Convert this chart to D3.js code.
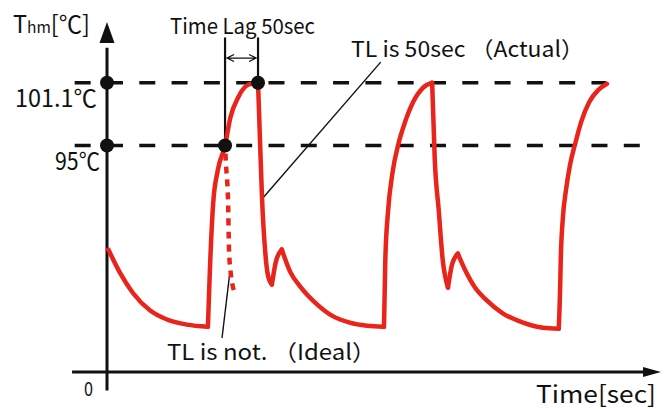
<!DOCTYPE html>
<html>
<head>
<meta charset="utf-8">
<script src="https://cdn.jsdelivr.net/npm/d3@7"></script>
<style>
  body { margin: 0; background: #fff; }
  text { font-family: "Noto Sans CJK JP", "Noto Sans", sans-serif; fill: #111; }
</style>
</head>
<body>
<script>
var curveTime = [2, 20, 39, 65, 91, 121, 153,
                 156, 161, 168, 179, 187, 199, 214, 229,
                 232, 235, 240, 244, 250,
                 256, 265,
                 278, 293, 318, 343, 368, 394, 420,
                 422, 426, 433, 442, 452, 464, 479, 493,
                 497, 503, 509, 517,
                 523, 532,
                 543, 558, 575, 600, 631, 661, 685,
                 687, 688, 691, 696, 702, 710, 719, 731, 745, 758];
var curveTemp = [84.9, 82.6, 80.7, 79.0, 78.1, 77.6, 77.4,
                 82.9, 89.4, 92.6, 95.0, 97.7, 99.7, 100.9, 101.1,
                 95.5, 90.0, 84.6, 82.4, 81.5,
                 83.7, 84.9,
                 82.7, 81.3, 79.6, 78.4, 77.8, 77.5, 77.4,
                 83.9, 88.5, 92.4, 95.2, 97.3, 99.2, 100.6, 101.1,
                 93.6, 88.7, 83.9, 81.2,
                 83.4, 84.5,
                 82.9, 81.2, 80.0, 78.7, 77.8, 77.3, 77.2,
                 81.0, 83.9, 87.8, 90.7, 93.1, 95.2, 97.3, 99.2, 100.4, 101.0];
// sharp corners (index into curve arrays) where the smooth pieces meet
var cornerAt = [6, 14, 19, 21, 28, 36, 40, 42, 49];

// ideal response (no lag), drawn dotted
var idealTime = [179, 180.5, 183.5, 185, 188, 194];
var idealTemp = [95, 93.1, 89.7, 84.9, 82.4, 80.7];

// reference levels
var refLevels = [101.1, 95];
var refLabels = ["101.1℃", "95℃"];
var refStart = -49;
var refEnd = [757, 810];

var dotTime = [0, 0, 179, 229];
var dotTemp = [101.1, 95, 95, 101.1];

var lagStart = 179, lagEnd = 229, lagTop = 105.5, lagArrow = 103.5;

var actualLeader = [[235, 89.8], [415, 103.1]];
var idealLeader = [[186.5, 82.8], [174.4, 76.3]];

var w = 672, h = 409;
var red = "#e8241b";

var svg = d3.select("body").append("svg")
    .attr("width", w)
    .attr("height", h);

var x = d3.scaleLinear().domain([0, 840]).range([107, 661]);
var y = d3.scaleLinear().domain([73, 107]).range([372, 22]);

// dashed reference lines
refLevels.forEach(function(v, i) {
    svg.append("line")
        .attr("x1", x(refStart)).attr("x2", x(refEnd[i]))
        .attr("y1", y(v)).attr("y2", y(v))
        .attr("stroke", "#111")
        .attr("stroke-width", 3.5)
        .attr("stroke-dasharray", "16,16.3");
});

// axes
svg.append("line")
    .attr("x1", x(-53)).attr("x2", x(828))
    .attr("y1", y(73)).attr("y2", y(73))
    .attr("stroke", "#111").attr("stroke-width", 3);
svg.append("path")
    .attr("d", "M" + x(840) + "," + y(73) + "L" + (x(840) - 18) + "," + (y(73) - 5) +
               "L" + (x(840) - 18) + "," + (y(73) + 5) + "Z")
    .attr("fill", "#111");
svg.append("line")
    .attr("x1", x(0)).attr("x2", x(0))
    .attr("y1", y(71.2)).attr("y2", y(104.5))
    .attr("stroke", "#111").attr("stroke-width", 3);
svg.append("path")
    .attr("d", "M" + x(0) + "," + y(107) + "L" + (x(0) - 7.5) + "," + (y(107) + 21) +
               "L" + (x(0) + 7.5) + "," + (y(107) + 21) + "Z")
    .attr("fill", "#111");

// time lag markers
[[lagStart, 95], [lagEnd, 101.1]].forEach(function(p) {
    svg.append("line")
        .attr("x1", x(p[0])).attr("x2", x(p[0]))
        .attr("y1", y(lagTop)).attr("y2", y(p[1]))
        .attr("stroke", "#111").attr("stroke-width", 2.2);
});
var ax1 = x(lagStart) + 2, ax2 = x(lagEnd) - 2, ay = y(lagArrow);
svg.append("path")
    .attr("d", "M" + ax1 + "," + ay + "L" + ax2 + "," + ay +
               "M" + (ax1 + 7) + "," + (ay - 3.5) + "L" + ax1 + "," + ay + "L" + (ax1 + 7) + "," + (ay + 3.5) +
               "M" + (ax2 - 7) + "," + (ay - 3.5) + "L" + ax2 + "," + ay + "L" + (ax2 - 7) + "," + (ay + 3.5))
    .attr("fill", "none").attr("stroke", "#111").attr("stroke-width", 1.3);

// leader lines
[actualLeader, idealLeader].forEach(function(l) {
    svg.append("line")
        .attr("x1", x(l[0][0])).attr("y1", y(l[0][1]))
        .attr("x2", x(l[1][0])).attr("y2", y(l[1][1]))
        .attr("stroke", "#111").attr("stroke-width", 1.4);
});

// curve, split at the corners so they stay sharp
var pts = curveTime.map(function(t, i) { return [t, curveTemp[i]]; });
var line = d3.line()
    .x(function(d) { return x(d[0]); })
    .y(function(d) { return y(d[1]); })
    .curve(d3.curveMonotoneX);
var cuts = [0].concat(cornerAt, [pts.length - 1]);
var pieces = [];
for (var k = 0; k < cuts.length - 1; k++) {
    pieces.push(pts.slice(cuts[k], cuts[k + 1] + 1));
}
svg.append("g")
    .selectAll("path")
    .data(pieces)
    .enter()
    .append("path")
    .attr("d", line)
    .attr("fill", "none")
    .attr("stroke", red)
    .attr("stroke-width", 4.5)
    .attr("stroke-linecap", "round");

// ideal (dotted)
svg.append("path")
    .datum(idealTime.map(function(t, i) { return [t, idealTemp[i]]; }))
    .attr("d", line)
    .attr("fill", "none")
    .attr("stroke", red)
    .attr("stroke-width", 4.5)
    .attr("stroke-dasharray", "0,8,7,6,7,6,7,6,7,6,7,6,7,6,7,6,7,6,7,6,7,6,7,6");

// dots
svg.append("g")
    .selectAll("circle")
    .data(dotTime)
    .enter()
    .append("circle")
    .attr("cx", function(d) { return x(d); })
    .attr("cy", function(d, i) { return y(dotTemp[i]); })
    .attr("r", 7)
    .attr("fill", "#111");

// text
function label(str, px, py, size, len) {
    return svg.append("text")
        .attr("x", px).attr("y", py)
        .attr("font-size", size)
        .attr("textLength", len)
        .attr("lengthAdjust", "spacingAndGlyphs")
        .text(str);
}
// y axis title, T with small "hm"
var yTitle = svg.append("text")
    .attr("x", 13).attr("y", 33)
    .attr("font-size", 24)
    .attr("textLength", 77)
    .attr("lengthAdjust", "spacingAndGlyphs");
yTitle.append("tspan").text("T");
yTitle.append("tspan").attr("font-size", 16).text("hm");
yTitle.append("tspan").text("[℃]");

label(refLabels[0], 15, y(refLevels[0]) + 24, 24, 82);
label(refLabels[1], 55, y(refLevels[1]) + 24, 24, 45);
label("0", 84, 396, 19, 9);
label("Time Lag 50sec", 170, 34, 21, 145);
label("TL is 50sec （Actual）", 351, 57, 22, 233);
label("TL is not. （Ideal）", 167, 360, 22, 209);
label("Time[sec]", 536, 403, 24, 120);
</script>
</body>
</html>
